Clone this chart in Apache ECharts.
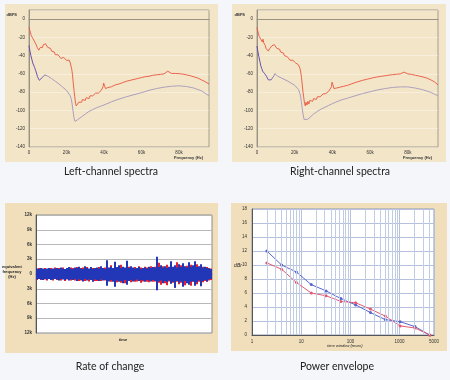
<!DOCTYPE html>
<html><head><meta charset="utf-8">
<script src="https://cdn.jsdelivr.net/npm/echarts@6/dist/echarts.min.js"></script>
<style>html,body{margin:0;padding:0;background:#f4f6f9;}#c{width:450px;height:380px;}</style>
</head><body><div id="c"></div><script>
// ---------- Spectra (kHz, dBFS) ----------
const redKHz = [0,0.4,0.8,1.2,1.6,2.0,2.4,2.8,3.2,3.6,4.0,4.4,4.8,5.2,5.6,6.0,6.4,6.8,7.2,7.6,8.0,8.4,8.8,9.2,9.6,10.0,10.5,11.0,11.5,12.0,12.5,13.0,13.5,14.0,14.5,15.0,15.5,16.0,16.5,17.0,17.5,18.0,18.5,19.0,19.5,20.0,20.5,21.0,21.5,22.0,22.4,22.8,23.2,23.6,24.0,24.4,24.8,25.2,25.6,26.0,26.5,27.0,27.5,28.0,28.5,29.0,29.5,30.0,30.5,31,31.5,32,32.5,33,33.5,34,34.5,35,35.5,36,36.5,37,37.5,38,38.5,39,39.5,39.8,40.0,40.3,40.8,42,44,46,48,50,52,54,56,58,60,62,64,66,68,70,72,74,76,78,80,82,84,86,88,90,92,94,96];
const leftRedDb = [-9,-12,-15,-18,-17,-21,-20,-24,-23,-27,-26,-31,-30,-34,-33,-31,-32,-29,-31,-28,-30,-28,-27,-29,-28,-31,-30,-33,-32,-35,-34,-37,-36,-39,-38,-41,-39,-41,-40,-43,-41,-44,-42,-44,-43,-45,-44,-46,-45,-48,-50,-55,-61,-70,-78,-85,-92,-95,-93,-95,-91,-93,-90,-91,-88,-90,-87,-89,-86,-88,-85,-87,-84,-86,-83,-84,-82,-83,-81,-82,-80,-81,-79,-79,-78,-77,-74,-70,-68,-73,-76,-75,-74,-72,-71,-69.5,-68,-67,-66,-65,-64,-63,-62.5,-61.5,-61,-60.5,-60,-57,-59.5,-59.5,-59.7,-60.2,-61,-62,-63.2,-64.5,-66.5,-68.5,-71];
const rightRedDb = [-9,-13,-16,-19,-17,-22,-20,-25,-22,-26,-24,-29,-32,-34,-33,-35,-33,-32,-30,-32,-29,-30,-27,-28,-30,-29,-32,-31,-34,-33,-36,-35,-38,-37,-40,-39,-42,-41,-43,-42,-45,-44,-46,-45,-47,-46,-48,-47,-49,-50,-52,-54,-58,-64,-72,-80,-86,-92,-95,-91,-94,-90,-93,-89,-91,-88,-90,-87,-89,-86,-88,-85,-87,-84,-85,-83,-84,-82,-83,-81,-81.5,-80,-80,-79,-78,-77,-74,-69,-67,-72,-76,-75.5,-74.5,-73.5,-72.5,-71,-69.5,-68.2,-67,-66,-65,-64,-63.2,-62.5,-62,-61.3,-60.8,-60.3,-60,-58,-60,-60.5,-61.5,-62.3,-63.3,-64.5,-66.3,-68.5,-72];
const grayKHz = [0,0.5,1,1.5,2,2.5,3,3.5,4,4.5,5,5.5,6,6.5,7,7.5,8,8.5,9,9.5,10,11,12,13,14,16,18,20,21,22,22.5,23,23.5,24,24.5,25,26,27,28,30,32,34,36,38,40,44,48,52,56,60,64,68,72,76,80,84,88,92,96];
const leftGrayDb = [-29,-35,-40,-44,-48,-50,-53,-56,-59,-63,-65,-67,-66,-65,-64,-63,-62,-61,-60,-61.5,-62.5,-63.5,-65,-66.5,-68,-71,-74.5,-78,-80,-84,-87,-93,-101,-108,-112,-111.5,-110,-108.5,-107,-104,-101,-99,-97,-95.5,-94,-90.5,-87.5,-85,-82.7,-80.5,-78,-76,-74.5,-73.5,-73,-73.8,-75.5,-78.5,-84];
const rightGrayDb = [-29.5,-36,-41,-46,-51,-54,-57,-58,-59.5,-61,-62.5,-64.5,-66.5,-67.5,-67,-66.5,-65.5,-64.5,-62,-59.7,-61,-62.5,-63.5,-64.5,-65.5,-67.5,-70,-72.5,-74,-77,-79,-83,-90,-98,-105,-110,-111,-109.5,-108,-104,-101,-98.5,-96.5,-94.5,-92.5,-89,-86.5,-84,-81.5,-79.5,-77.5,-76,-74.8,-74.2,-74.2,-75.5,-77.3,-80,-84];

// ---------- Rate of change (kHz envelope per time slice) ----------
const blueUp = [1.1,1.0,1.2,1.1,1.0,1.1,1.2,1.0,1.1,1.1, 1.2,1.0,1.3,1.1,1.0,1.2,1.4,1.1,1.0,1.3, 1.2,1.5,1.1,1.0,1.6,1.2,1.1,1.4,1.0,1.2, 1.3,1.1,1.6,1.2,1.0, 2.8, 1.3,1.5,1.2, 2.5, 1.4,1.8,1.2,1.5,1.3, 2.7, 1.2,1.6,1.3,1.1,1.2,1.4,1.0,1.2,1.3,1.1,1.5,1.2,1.4,1.3, 3.5, 1.4,1.8,1.3,1.6,1.2,1.5, 2.6, 1.5,1.8,1.3,2.0,1.4, 2.2, 1.6,1.3, 2.4, 1.5,1.8, 2.6, 1.4,1.6, 2.0, 1.3,1.5,1.2,1.1,1.0];
const blueDown = [-1.1,-1.0,-1.1,-1.2,-1.0,-1.1,-1.0,-1.2,-1.1,-1.0, -1.1,-1.3,-1.0,-1.1,-1.2,-1.0,-1.3,-1.1,-1.2,-1.0, -1.4,-1.1,-1.2,-1.5,-1.0,-1.3,-1.1,-1.2,-1.6,-1.1, -1.2,-1.4,-1.1,-1.3,-1.2, -2.4, -1.5,-1.2,-1.6, -2.6, -1.3,-1.6,-1.4,-1.9,-1.2, -2.2, -1.4,-1.2,-1.5,-1.3,-1.1,-1.4,-1.2,-1.3,-1.6,-1.2,-1.3,-1.5,-1.2,-1.4, -3.3, -1.5,-1.3,-1.9,-1.4,-1.7,-1.3, -2.0, -1.6,-2.8,-1.4,-1.8,-1.5, -2.6, -1.4,-1.9, -2.2, -1.6,-1.5, -2.4, -1.7,-1.3, -2.5, -1.4,-1.2,-1.5,-1.1,-1.0];
const redUp = [1.0,1.2,1.1,1.0,1.2,1.0,1.1,1.2,1.0,1.3, 1.1,1.2,1.1,1.3,1.0,1.1,1.2,1.3,1.2,1.1, 1.4,1.3,1.2,1.3,1.2,1.4,1.0,1.3,1.2,1.1, 1.2,1.4,1.3,1.1,1.3, 1.6, 1.2,1.8,1.0, 1.9, 1.3,1.5,1.9,1.3,1.2, 1.8, 1.5,1.3,1.2,1.4,1.0,1.6,1.3,1.1,1.5,1.3,1.2,1.6,1.3,1.5, 2.0, 2.3,1.4,1.6,1.3,1.9,1.3, 1.8, 1.4,1.6,2.4,1.5,1.8, 1.6, 1.5,1.7, 2.0, 1.9,1.5, 1.7, 2.0,1.5, 1.8, 1.5,1.3,1.4,1.2,1.1];
const redDown = [-1.2,-1.0,-1.2,-1.1,-1.1,-1.3,-1.0,-1.1,-1.3,-1.0, -1.2,-1.1,-1.3,-1.0,-1.4,-1.1,-1.2,-1.3,-1.1,-1.3, -1.2,-1.4,-1.3,-1.2,-1.4,-1.1,-1.5,-1.1,-1.3,-1.4, -1.4,-1.2,-1.4,-1.2,-1.3, -1.7, -1.4,-1.6,-1.3, -1.8, -1.7,-1.4,-1.8,-1.5,-1.9, -1.6, -1.3,-1.7,-1.4,-1.6,-1.5,-1.2,-1.8,-1.5,-1.3,-1.6,-1.7,-1.3,-1.6,-1.5, -2.0, -1.8,-2.2,-1.6,-1.9,-2.3,-1.5, -1.9, -1.8,-2.8,-1.6,-2.1,-1.8, -1.7, -2.3,-1.7, -1.9, -2.4,-1.6, -1.8, -2.1,-1.6, -1.9, -1.7,-1.4,-1.6,-1.3,-1.2];

// ---------- Power envelope ----------
const windowMs = [2,4,8,16,32,64,128,256,512,1024,2048,4096];
const envBlue = [12.0,10.0,9.0,7.2,6.3,5.2,4.3,3.2,2.2,1.9,1.2,0];
const envRed = [10.3,9.4,7.5,6.0,5.6,4.8,4.6,3.7,2.7,1.3,1.0,0];
const minorGridMs = [2,3,4,5,6,7,8,9,20,30,40,50,60,70,80,90,200,300,400,500,600,700,800,900,2000,3000,4000];

const zip = (xs, ys) => xs.map((x, i) => [x, ys[i]]);
const sliceIdx = blueUp.map((_, i) => i);

const tiny = {fontSize:4.5, color:'#333', fontFamily:'Liberation Sans'};
const specRed = '#e8553e';
const grayGrad = () => new echarts.graphic.LinearGradient(0,0,1,0,[
  {offset:0,color:'#5d45a8'},{offset:0.08,color:'#7058b0'},{offset:0.12,color:'#aa9cbc'},{offset:1,color:'#aea2bc'}]);

function specX(gi){return {type:'value', gridIndex:gi, min:0, max:96, interval:20,
  axisLabel:Object.assign({margin:3, showMaxLabel:false, formatter:v=>v===0?'0':v+'k'}, tiny),
  axisLine:{lineStyle:{color:'#9a9282', width:1}}, axisTick:{show:false}, splitLine:{show:false}};}
function specY(gi){return {type:'value', gridIndex:gi, min:-140, max:10, interval:20,
  axisLabel:Object.assign({margin:4, showMaxLabel:false}, tiny),
  axisLine:{show:true, lineStyle:{color:'#9a9282', width:1}}, axisTick:{show:false},
  splitLine:{show:true, lineStyle:{color:'rgba(255,255,255,0.35)', width:1}}};}

const capFont = '10.5px Lato';
const option = {
  animation:false,
  backgroundColor:'#f4f6f9',
  graphic:[
    {type:'rect', z:-1, shape:{x:5,y:4,width:213,height:158}, style:{fill:'#f3e5c8'}},
    {type:'rect', z:-1, shape:{x:232,y:4,width:214,height:158}, style:{fill:'#f3e5c8'}},
    {type:'rect', z:-1, shape:{x:5,y:203,width:213,height:150}, style:{fill:'#f1dfbc'}},
    {type:'rect', z:-1, shape:{x:231,y:203,width:216,height:148}, style:{fill:'#f1dfbc'}},
    {type:'text', x:17, y:15, style:{text:'dBFS', textAlign:'right', textVerticalAlign:'middle', font:'bold 4px Liberation Sans', fill:'#333'}},
    {type:'text', x:245, y:15, style:{text:'dBFS', textAlign:'right', textVerticalAlign:'middle', font:'bold 4px Liberation Sans', fill:'#333'}},
    {type:'text', x:203, y:158, style:{text:'Frequency (Hz)', textAlign:'right', textVerticalAlign:'middle', font:'bold 4px Liberation Sans', fill:'#333'}},
    {type:'text', x:432, y:158, style:{text:'Frequency (Hz)', textAlign:'right', textVerticalAlign:'middle', font:'bold 4px Liberation Sans', fill:'#333'}},
    {type:'text', x:12, y:272, style:{text:'equivalent\nfrequency\n(Hz)', textAlign:'center', textVerticalAlign:'middle', font:'bold 4px Liberation Sans', fill:'#222', lineHeight:5}},
    {type:'text', x:123, y:340, style:{text:'time', textAlign:'center', textVerticalAlign:'middle', font:'bold 4px Liberation Sans', fill:'#222'}},
    {type:'text', x:238, y:266, style:{text:'dBr', textAlign:'center', textVerticalAlign:'middle', font:'italic 5px Liberation Sans', fill:'#222'}},
    {type:'text', x:345, y:346, style:{text:'time window (msec)', textAlign:'center', textVerticalAlign:'middle', font:'italic 4px Liberation Sans', fill:'#222'}},
    {type:'text', x:111, y:172, style:{text:'Left-channel spectra', textAlign:'center', textVerticalAlign:'middle', font:capFont, fill:'#222'}},
    {type:'text', x:340, y:172, style:{text:'Right-channel spectra', textAlign:'center', textVerticalAlign:'middle', font:capFont, fill:'#222'}},
    {type:'text', x:110, y:367, style:{text:'Rate of change', textAlign:'center', textVerticalAlign:'middle', font:capFont, fill:'#222'}},
    {type:'text', x:337, y:367, style:{text:'Power envelope', textAlign:'center', textVerticalAlign:'middle', font:capFont, fill:'#222'}}
  ],
  grid:[
    {left:29, top:10, width:180, height:137, show:true, borderColor:'#a49c8c', borderWidth:1},
    {left:257, top:10, width:181, height:137, show:true, borderColor:'#a49c8c', borderWidth:1},
    {left:36, top:215, width:176, height:118, show:true, backgroundColor:'#ffffff', borderColor:'#8a8a8a', borderWidth:1},
    {left:252, top:209, width:182, height:126, show:true, backgroundColor:'#ffffff', borderColor:'#8a96b8', borderWidth:1}
  ],
  xAxis:[
    specX(0), specX(1),
    {type:'category', gridIndex:2, data:sliceIdx, boundaryGap:true, axisLabel:{show:false}, axisTick:{show:false},
      axisLine:{lineStyle:{color:'#777'}}},
    {type:'log', gridIndex:3, min:1, max:5000, logBase:10,
      axisLabel:Object.assign({margin:4, showMinLabel:true, showMaxLabel:true, formatter:v=>String(Math.round(v))}, tiny),
      axisLine:{lineStyle:{color:'#555'}}, axisTick:{show:false},
      splitLine:{show:true, lineStyle:{color:'#b4c0dc', width:1}}}
  ],
  yAxis:[
    specY(0), specY(1),
    {type:'value', gridIndex:2, min:-12, max:12, interval:3,
      axisLabel:Object.assign({margin:4, formatter:v=>v===0?'0':Math.abs(v)+'k'}, tiny, {fontWeight:'bold'}),
      axisLine:{show:true, lineStyle:{color:'#555'}}, axisTick:{show:false},
      splitLine:{show:true, lineStyle:{color:'#b8b8b8', width:1}}},
    {type:'value', gridIndex:3, min:0, max:18, interval:2,
      axisLabel:Object.assign({margin:5}, tiny),
      axisLine:{show:true, lineStyle:{color:'#555'}}, axisTick:{show:false},
      splitLine:{show:true, lineStyle:{color:'#b4c0dc', width:1}}}
  ],
  series:[
    {type:'line', xAxisIndex:0, yAxisIndex:0, data:zip(grayKHz, leftGrayDb), showSymbol:false, lineStyle:{width:1, color:grayGrad()}},
    {type:'line', xAxisIndex:0, yAxisIndex:0, data:zip(redKHz, leftRedDb), showSymbol:false, lineStyle:{width:0.9, color:specRed}},
    {type:'line', xAxisIndex:1, yAxisIndex:1, data:zip(grayKHz, rightGrayDb), showSymbol:false, lineStyle:{width:1, color:grayGrad()}},
    {type:'line', xAxisIndex:1, yAxisIndex:1, data:zip(redKHz, rightRedDb), showSymbol:false, lineStyle:{width:0.9, color:specRed}},

    {type:'bar', xAxisIndex:2, yAxisIndex:2, stack:'r', data:redUp, itemStyle:{color:'#e5202e'}, barWidth:'100%', barGap:'-100%', barCategoryGap:0},
    {type:'bar', xAxisIndex:2, yAxisIndex:2, stack:'r', data:redDown, itemStyle:{color:'#e5202e'}, barWidth:'100%', barGap:'-100%', barCategoryGap:0},
    {type:'bar', xAxisIndex:2, yAxisIndex:2, stack:'b', data:blueUp, itemStyle:{color:'#2236b8'}, barWidth:'100%', barGap:'-100%', barCategoryGap:0},
    {type:'bar', xAxisIndex:2, yAxisIndex:2, stack:'b', data:blueDown, itemStyle:{color:'#2236b8'}, barWidth:'100%', barGap:'-100%', barCategoryGap:0},

    {type:'line', xAxisIndex:3, yAxisIndex:3, data:[], silent:true,
      markLine:{silent:true, symbol:'none', label:{show:false}, lineStyle:{color:'#c0cbe4', type:'solid', width:1},
        data:minorGridMs.map(v=>({xAxis:v}))}},
    {type:'line', xAxisIndex:3, yAxisIndex:3, data:zip(windowMs, envBlue), symbol:'circle', symbolSize:3,
      lineStyle:{width:1, color:'#5865cc'}, itemStyle:{color:'#5865cc'}},
    {type:'line', xAxisIndex:3, yAxisIndex:3, data:zip(windowMs, envRed), symbol:'circle', symbolSize:3,
      lineStyle:{width:1, color:'#e45a72'}, itemStyle:{color:'#e45a72'}}
  ]
};
const chart = echarts.init(document.getElementById('c'), null, {renderer:'canvas'});
chart.setOption(option);
</script></body></html>
